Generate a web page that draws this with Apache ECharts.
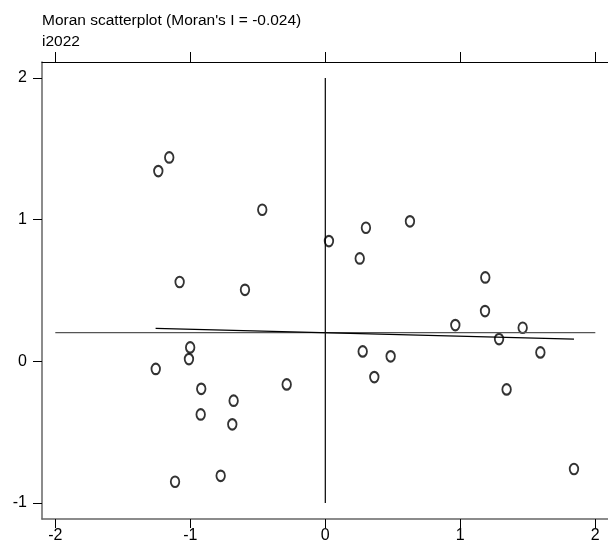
<!DOCTYPE html>
<html>
<head>
<meta charset="utf-8">
<script src="https://cdn.jsdelivr.net/npm/echarts@6/dist/echarts.min.js"></script>
<style>
html,body{margin:0;padding:0;background:#fff;}
#chart{width:608px;height:547px;}
</style>
</head>
<body>
<div id="chart"></div>
<script>
// Standardized variable (z) and its spatial lag (Wz)
const zValues  = [-1.156, -1.237, -0.467, 0.027, 0.301, 0.627, 0.255, -0.595, -1.079, 1.185,
                  1.183, 0.963, 1.462, 1.287, 1.593, 1.343, 0.277, 0.484, 0.363, -0.286,
                  -1.001, -1.010, -1.256, -0.919, -0.679, -0.923, -0.689, -0.775, -1.113, 1.842];
const wzValues = [1.439, 1.343, 1.070, 0.849, 0.943, 0.988, 0.726, 0.505, 0.560, 0.592,
                  0.355, 0.256, 0.237, 0.157, 0.063, -0.198, 0.070, 0.035, -0.111, -0.163,
                  0.098, 0.016, -0.054, -0.194, -0.278, -0.375, -0.445, -0.808, -0.850, -0.760];
const xTickValues = [-2, -1, 0, 1, 2];
const yTickValues = [-1, 0, 1, 2];
const verticalRef   = [[0, -1], [0, 2]];
const horizontalRef = [[-2, 0.202], [2, 0.202]];
const fitLine       = [[-1.257, 0.232], [1.842, 0.157]];
const titleLines = ["Moran scatterplot (Moran's I = -0.024)", "i2022"];

const points = zValues.map((v, i) => [v, wzValues[i]]);
const FONT = 'Liberation Sans';

const chart = echarts.init(document.getElementById('chart'), null, {renderer: 'canvas'});
chart.setOption({
  animation: false,
  backgroundColor: '#fff',
  title: {
    text: titleLines.join('\n'),
    left: 37, top: 5,
    textStyle: {fontFamily: FONT, fontSize: 15.5, fontWeight: 'normal', color: '#000', lineHeight: 21}
  },
  grid: {left: 42, top: 62, right: 0, bottom: 28, containLabel: false},
  xAxis: [{
    type: 'value', position: 'bottom',
    min: -2.0985, max: 2.094,
    axisLine: {show: true, onZero: false, lineStyle: {color: '#666', width: 1.5}},
    axisTick: {show: true, customValues: xTickValues, length: 9, lineStyle: {color: '#000', width: 1}},
    axisLabel: {show: true, customValues: xTickValues, margin: 9, fontFamily: FONT, fontSize: 16, color: '#000'},
    splitLine: {show: false}
  }, {
    type: 'value', position: 'top',
    min: -2.0985, max: 2.094,
    axisLine: {show: true, onZero: false, lineStyle: {color: '#000', width: 1.2}},
    axisTick: {show: true, customValues: xTickValues, length: 10, lineStyle: {color: '#000', width: 1}},
    axisLabel: {show: false},
    splitLine: {show: false}
  }],
  yAxis: {
    type: 'value', position: 'left',
    min: -1.113, max: 2.113,
    axisLine: {show: true, onZero: false, lineStyle: {color: '#666', width: 1.5}},
    axisTick: {show: true, customValues: yTickValues, length: 9, lineStyle: {color: '#000', width: 1}},
    axisLabel: {show: true, customValues: yTickValues, margin: 15, fontFamily: FONT, fontSize: 16, color: '#000'},
    splitLine: {show: false}
  },
  series: [
    {type: 'line', data: verticalRef, symbol: 'none', silent: true,
     lineStyle: {color: '#000', width: 1.2}},
    {type: 'line', data: horizontalRef, symbol: 'none', silent: true,
     lineStyle: {color: '#555', width: 1.3}},
    {type: 'line', data: fitLine, symbol: 'none', silent: true,
     lineStyle: {color: '#000', width: 1.2}},
    {type: 'scatter', data: points, symbol: 'emptyCircle', symbolSize: [8.5, 10.5],
     itemStyle: {color: '#000', borderColor: '#222', borderWidth: 0.85}}
  ]
});
</script>
</body>
</html>
